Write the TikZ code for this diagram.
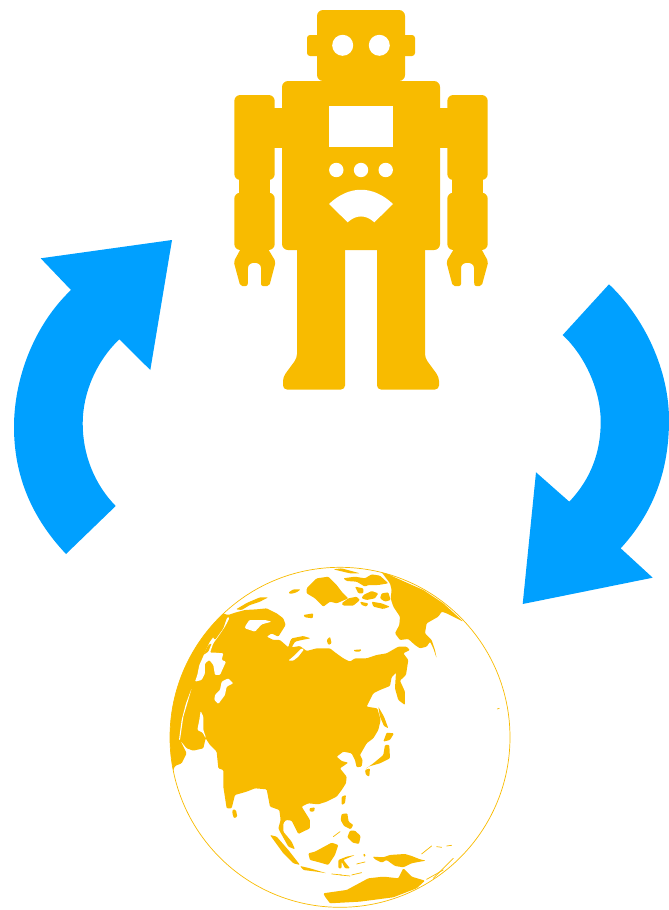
\documentclass[tikz,border=0pt]{standalone}
\definecolor{robotcol}{HTML}{F8BB00}
\definecolor{arrowcol}{HTML}{00A0FF}
\tikzset{
	robotpart/.style={fill=robotcol, rounded corners=6},
	robothole/.style={fill=white},
	turnarrow/.style={fill=arrowcol},
	land/.style={fill=robotcol, rounded corners=1},
	sea/.style={fill=white, rounded corners=1},
	landline/.style={draw=robotcol, line width=0.7pt, line cap=round}
}
\begin{document}
\begin{tikzpicture}[x=1pt, y=-1pt]
\useasboundingbox (0,0) rectangle (669,910);

% head and body
\fill[robotpart] (317,81) -- (317,10) -- (405,10) -- (405,81) -- cycle;
\fill[robotpart, rounded corners=3] (307,35) rectangle (415,56);
\fill[robotpart] (282,81) rectangle (440,250);
\fill[robothole] (329,106) rectangle (393,147);
\foreach \x in {342.7, 379.3}
{
	\fill[robothole] (\x,45.3) circle[radius=10.5];
}
\foreach \x in {336.3, 361, 385.7}
{
	\fill[robothole] (\x,170) circle[radius=7.2];
}
\fill[robothole] (329,204) .. controls (349,185) and (373,185) .. (393,204) -- (374.3,222.3) .. controls (366,214.5) and (356,214.5) .. (347.7,222.3) -- cycle;

% legs and arms
\foreach \sx / \dx in {1/0, -1/722}
{
	\begin{scope}[shift={(\dx,0)}, xscale=\sx]
		\fill[robotcol, rounded corners=4] (297,240) -- (297,358) -- (283,377) -- (283,389.5) -- (345,389.5) -- (345,240) -- cycle;
		\fill[robotcol] (274,108.3) rectangle (283,147.7);
		\fill[robotpart] (234.3,95) rectangle (274.7,180);
		\fill[robotcol] (239.3,175) rectangle (270,198);
		\fill[robotpart] (234.3,192.7) rectangle (274.7,250);
		\fill[robotcol, rounded corners=2] (242.3,246) -- (233.7,261.7) -- (240.3,286) -- (247.7,286) -- (248,270) .. controls (248,261) and (261,261) .. (261,270) -- (261,286) -- (269.3,286) -- (275.7,261.7) -- (266.3,246) -- cycle;
	\end{scope}
}

% arrows
\fill[turnarrow] (172,240) -- (40.7,258.3) -- (71,290) .. controls (34.7,324.5) and (14,377.4) .. (14,427) .. controls (14,476.6) and (32.3,518.3) .. (66,554) -- (115.7,506) .. controls (94,483.7) and (82.7,454.3) .. (82.7,423.3) .. controls (82.7,392.3) and (96.9,360.6) .. (119.3,339.3) -- (150.3,370) -- cycle;
\fill[turnarrow] (609,284.3) .. controls (645,318.3) and (669,370.4) .. (669,420) .. controls (669,469.6) and (654.2,511.8) .. (620.7,548.3) -- (652.7,577.7) -- (522.7,604) -- (536,472.3) -- (569.3,501.7) .. controls (590.6,479.2) and (600.7,452.7) .. (600.7,421.7) .. controls (600.7,390.7) and (585.3,356.2) .. (562.7,335) -- cycle;

% globe
\draw[robotcol, line width=0.7pt] (340,737.3) circle[radius=170];
\begin{scope}[shift={(160,560)}, scale=0.3333]
	\clip (540,532) circle[radius=510];
	\fill[land] (36,640) -- (45,618) -- (65,610) -- (80,580) -- (60,540) -- (80,565) -- (100,572) -- (130,565) -- (137,535) -- (150,555) -- (170,575) -- (175,625) -- (190,630) -- (190,680) -- (200,745) -- (215,745) -- (225,705) -- (260,695) -- (285,685) -- (320,688) -- (330,740) -- (358,750) -- (362,780) -- (355,805) -- (360,815) -- (385,860) -- (405,868) -- (395,845) -- (370,815) -- (370,790) -- (378,780) -- (395,782) -- (415,822) -- (450,805) -- (450,780) -- (425,740) -- (445,730) -- (475,733) -- (500,725) -- (530,710) -- (545,690) -- (558,670) -- (560,650) -- (540,625) -- (565,608) -- (545,603) -- (530,590) -- (550,575) -- (575,580) -- (585,600) -- (590,622) -- (605,620) -- (608,600) -- (600,585) -- (620,550) -- (640,535) -- (655,510) -- (662,480) -- (652,445) -- (620,440) -- (640,400) -- (660,390) -- (690,378) -- (695,352) -- (708,338) -- (705,385) -- (715,420) -- (735,435) -- (735,395) -- (720,362) -- (738,345) -- (745,300) -- (730,280) -- (750,270) -- (740,260) -- (715,260) -- (680,280) -- (650,285) -- (620,295) -- (585,295) -- (570,305) -- (550,295) -- (525,277) -- (510,265) -- (470,265) -- (440,273) -- (420,258) -- (395,262) -- (405,245) -- (425,240) -- (452,235) -- (430,228) -- (395,235) -- (390,245) -- (385,262) -- (360,240) -- (340,240) -- (320,230) -- (335,220) -- (355,230) -- (377,195) -- (370,175) -- (350,160) -- (320,145) -- (290,148) -- (255,150) -- (225,158) -- (205,165) -- (150,150) -- (0,400) -- (0,640) -- cycle;
	\fill[sea] (137,535) -- (128,518) -- (112,510) -- (118,480) -- (122,453) -- (130,470) -- (130,510) -- (137,530) -- cycle;
	\fill[sea] (95,385) -- (82,430) -- (70,470) -- (60,540) -- (57,540) -- (65,480) -- (78,430) -- cycle;
	\fill[sea] (163,420) -- (165,405) -- (180,390) -- (185,365) -- (205,355) -- (220,370) -- (200,380) -- (195,405) -- (175,432) -- cycle;
	\fill[sea] (105,365) -- (112,345) -- (118,315) -- (125,300) -- (140,265) -- (150,245) -- (165,225) -- (190,190) -- (205,170) -- (208,175) -- (195,200) -- (178,225) -- (160,250) -- (150,278) -- (165,278) -- (190,280) -- (185,300) -- (198,305) -- (180,345) -- (165,345) -- (160,315) -- (148,300) -- (135,310) -- (135,340) -- (125,360) -- cycle;
	\fill[sea] (255,200) -- (268,180) -- (315,180) -- (335,185) -- (305,193) -- (285,215) -- (255,205) -- cycle;
	\fill[sea] (385,302) -- (405,285) -- (425,265) -- (432,268) -- (415,290) -- (400,302) -- cycle;
	\fill[land] (155,225) -- (175,200) -- (200,175) -- (190,205) -- (165,240) -- cycle;
	\fill[land] (130,285) -- (145,255) -- (155,250) -- (145,275) -- cycle;
	\fill[land] (228,148) -- (262,128) -- (300,112) -- (325,112) -- (300,125) -- (270,135) -- (245,150) -- cycle;
	\fill[land] (660,30) -- (700,50) -- (790,90) -- (850,130) -- (910,185) -- (860,160) -- (845,155) -- (835,170) -- (800,190) -- (795,220) -- (815,240) -- (825,270) -- (830,295) -- (820,265) -- (810,245) -- (800,260) -- (780,265) -- (765,255) -- (745,237) -- (720,240) -- (705,220) -- (718,195) -- (720,170) -- (700,140) -- (692,115) -- (695,90) -- (690,70) -- cycle;
	\fill[land] (550,55) -- (585,50) -- (615,55) -- (635,43) -- (660,47) -- (685,70) -- (655,75) -- (625,75) -- (615,80) -- (590,65) -- (560,63) -- cycle;
	\fill[land] (545,130) -- (565,115) -- (590,110) -- (600,120) -- (580,137) -- (550,137) -- cycle;
	\fill[land] (610,105) -- (635,93) -- (655,100) -- (645,115) -- (620,120) -- (605,115) -- cycle;
	\fill[land] (665,100) -- (685,97) -- (692,120) -- (675,125) -- (660,115) -- cycle;
	\fill[land] (635,125) -- (665,130) -- (690,140) -- (670,147) -- (640,140) -- cycle;
	\fill[land] (600,125) -- (625,130) -- (620,140) -- (605,135) -- cycle;
	\fill[land] (585,80) -- (610,85) -- (610,100) -- (595,100) -- cycle;
	\fill[land] (520,28) -- (545,25) -- (600,40) -- (570,40) -- cycle;
	\fill[land] (440,85) -- (470,55) -- (505,50) -- (530,75) -- (545,95) -- (565,115) -- (530,130) -- (510,125) -- (490,140) -- (465,115) -- (440,100) -- cycle;
	\fill[land] (385,98) -- (400,88) -- (422,88) -- (410,97) -- (392,102) -- cycle;
	\fill[land] (430,165) -- (460,160) -- (458,175) -- (435,172) -- cycle;
	\fill[land] (500,240) -- (510,230) -- (515,250) -- (505,255) -- cycle;
	\fill[land] (580,270) -- (605,268) -- (600,275) -- (585,275) -- cycle;
	\fill[land] (655,440) -- (672,470) -- (685,505) -- (672,498) -- (660,470) -- cycle;
	\fill[land] (680,518) -- (702,520) -- (690,540) -- (670,545) -- cycle;
	\fill[land] (675,555) -- (688,555) -- (690,595) -- (660,610) -- (625,620) -- (615,628) -- (640,610) -- (670,585) -- cycle;
	\fill[land] (615,630) -- (630,625) -- (628,650) -- (618,645) -- cycle;
	\fill[land] (545,710) -- (558,705) -- (555,730) -- (545,735) -- cycle;
	\fill[land] (448,745) -- (465,742) -- (462,755) -- (450,755) -- cycle;
	\fill[land] (218,748) -- (228,750) -- (232,770) -- (222,775) -- (217,760) -- cycle;
	\fill[land] (545,762) -- (562,760) -- (566,785) -- (580,795) -- (572,808) -- (552,798) -- (542,780) -- cycle;
	\fill[land] (570,812) -- (585,812) -- (602,828) -- (597,852) -- (578,848) -- (562,832) -- cycle;
	\fill[land] (330,825) -- (350,830) -- (385,870) -- (420,915) -- (400,910) -- (370,880) -- cycle;
	\fill[land] (445,880) -- (465,875) -- (515,848) -- (535,855) -- (525,885) -- (505,915) -- (470,905) -- (450,900) -- cycle;
	\fill[land] (535,900) -- (560,890) -- (585,885) -- (550,900) -- (570,925) -- (555,925) -- (545,905) -- (545,925) -- (535,925) -- cycle;
	\fill[land] (420,918) -- (450,925) -- (500,940) -- (470,935) -- (430,930) -- cycle;
	\fill[land] (638,890) -- (670,892) -- (690,885) -- (735,882) -- (755,888) -- (780,898) -- (798,902) -- (775,906) -- (755,910) -- (730,922) -- (705,918) -- (680,900) -- (665,908) -- (645,898) -- cycle;
	\fill[land] (490,1000) -- (560,990) -- (625,955) -- (670,950) -- (715,955) -- (730,925) -- (755,950) -- (795,962) -- (770,985) -- (700,1012) -- (600,1025) -- (510,1030) -- (495,1010) -- cycle;
	\fill[land] (610,880) -- (618,885) -- (612,892) -- cycle;
	\foreach \ax / \ay / \bx / \by in {515/942/545/945, 575/945/605/938, 590/912/615/906, 540/945/570/948, 785/882/815/858, 830/860/845/862, 860/858/875/856, 800/958/850/930, 820/955/880/895, 520/830/540/815, 1012/447/1018/445}
	{
		\draw[landline] (\ax,\ay) -- (\bx,\by);
	}
\end{scope}
\end{tikzpicture}
\end{document}
